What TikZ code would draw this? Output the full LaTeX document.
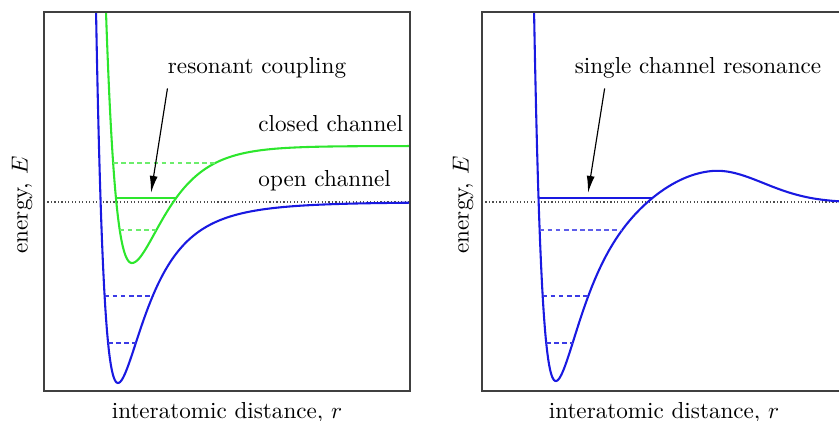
\documentclass[tikz,border=0pt]{standalone}
\usepackage{amsmath}
\usetikzlibrary{positioning,arrows.meta}
\definecolor{chanblue}{RGB}{25,25,225}
\definecolor{changreen}{RGB}{45,230,45}

\begin{document}
\begin{tikzpicture}[x=0.0152cm, y=-0.0152cm,
    frame/.style={draw=black!75, line width=0.6pt},
    curve/.style={line width=0.9pt},
    level/.style={line width=0.6pt, dash pattern=on 2pt off 1.5pt},
    threshold/.style={black!70, densely dotted, line width=0.5pt},
    pointer/.style={-{Latex[length=2.6mm, width=1.2mm]}, line width=0.5pt},
    chanlabel/.style={inner sep=0pt},
    declare function={
        ljl(\x)    = (159.5/(\x+41.5))^6;
        ljr(\x)    = (159.5/(\x-396.5))^6;
        wb(\x)     = (\x<710)*90 + (\x>=710)*72;
        barr(\x)   = 37*exp(-((\x-710)/wb(\x))*((\x-710)/wb(\x)));
        blueL(\x)  = 202 - 181*(ljl(\x)*ljl(\x) - 2*ljl(\x));
        blueR(\x)  = 202 - 181*(ljr(\x)*ljr(\x) - 2*ljr(\x)) - barr(\x);
        greenL(\x) = 263 - 117*(1-exp(-0.0347*(\x-132)))*(1-exp(-0.0347*(\x-132)));
        greenR(\x) = 263 - 117*(1-exp(-0.031*(\x-132)))*(1-exp(-0.031*(\x-132)));
    }]
    \useasboundingbox (0,0) rectangle (839,421);

    % thresholds
    \draw[threshold] (44,202) -- (410,202);
    \draw[threshold] (482,202) -- (850,202);

    % left panel: two channels
    \begin{scope}
        \clip (44,12) rectangle (410,391);
        \draw[curve, chanblue]  plot[domain=92:410, samples=320] (\x, {blueL(\x)});
        \draw[curve, changreen] plot[domain=100:132, samples=60] (\x, {greenL(\x)})
                                -- plot[domain=132:410, samples=200] (\x, {greenR(\x)});
    \end{scope}
    \draw[level, changreen!70] (113.1,163) -- (215.3,163);
    \draw[level, changreen!70] (119.7,230) -- (156.4,230);
    \draw[curve, changreen]    (116,198) -- (176.1,198);
    \draw[level, chanblue!85]  (104.6,296) -- (152.7,296);
    \draw[level, chanblue!85]  (108.1,343) -- (135.8,343);

    % right panel: one channel with barrier
    \begin{scope}
        \clip (482,12) rectangle (850,391);
        \draw[curve, chanblue] plot[domain=530:850, samples=320] (\x, {blueR(\x)});
    \end{scope}
    \draw[curve, chanblue]    (538.5,198) -- (652.5,198);
    \draw[level, chanblue!70] (539.6,230) -- (622.2,230);
    \draw[level, chanblue!85] (542.6,296) -- (588.3,296);
    \draw[level, chanblue!85] (546.1,343) -- (572.6,343);

    % frames
    \draw[frame] (44,12) rectangle (410,391);
    \draw[frame] (482,12) rectangle (850,391);

    % labels
    \node[chanlabel, anchor=base]      (rc)  at (257,74)  {resonant coupling};
    \node[chanlabel, anchor=base west] (cc)  at (258,132) {closed channel};
    \node[chanlabel, anchor=base west] (oc)  at (258,187) {open channel};
    \node[chanlabel, anchor=base]      (scr) at (698,74)  {single channel resonance};
    \node[rotate=90] (eL) at (22,205)  {energy, $E$};
    \node[rotate=90] (eR) at (463,205) {energy, $E$};
    \node[anchor=base] (dL) at (227,418) {interatomic distance, $r$};
    \node[anchor=base] (dR) at (664,418) {interatomic distance, $r$};

    % arrows
    \coordinate (rctip)  at (151,193);
    \coordinate (scrtip) at (588,193);
    \draw[pointer] ([yshift=-1.4mm]rc.south west) -- (rctip);
    \draw[pointer] ([xshift=4.6mm, yshift=-1.4mm]scr.south west) -- (scrtip);
\end{tikzpicture}
\end{document}
